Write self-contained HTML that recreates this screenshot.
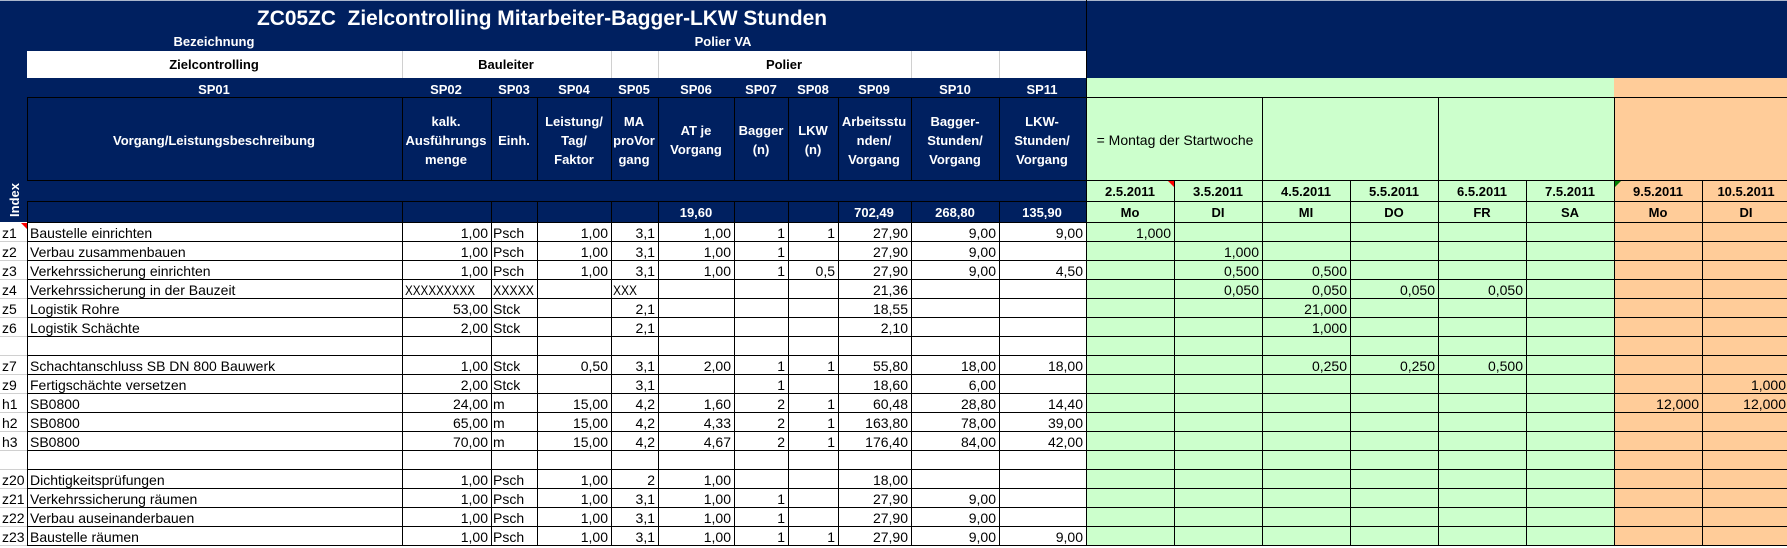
<!DOCTYPE html>
<html>
<head>
<meta charset="utf-8">
<style>
html,body{margin:0;padding:0;background:#fff;}
body{width:1787px;height:548px;overflow:hidden;}
svg{display:block;}
.t{font-family:"Liberation Sans",sans-serif;font-size:14px;fill:#000;}
.h{font-family:"Liberation Sans",sans-serif;font-size:13px;font-weight:bold;fill:#fff;}
.k{font-family:"Liberation Sans",sans-serif;font-size:13px;font-weight:bold;fill:#000;}
</style>
</head>
<body>
<svg width="1787" height="548" viewBox="0 0 1787 548" xmlns="http://www.w3.org/2000/svg">
<!-- backgrounds -->
<rect x="0" y="0" width="1787" height="548" fill="#ffffff"/>
<rect x="0" y="0" width="1787" height="78" fill="#002060"/>
<rect x="0" y="78" width="1086" height="144" fill="#002060"/>
<rect x="27" y="51" width="1059" height="27" fill="#ffffff"/>
<rect x="1086" y="78" width="528" height="467" fill="#CCFFCC"/>
<rect x="1614" y="78" width="173" height="467" fill="#FFCC99"/>
<rect x="0" y="0" width="1787" height="1" fill="#aab6cc"/>

<!-- light grey lines -->
<g stroke="#d0d0d0" stroke-width="1" shape-rendering="crispEdges">
<path d="M402.5 51V78M611.5 51V78M658.5 51V78M911.5 51V78M999.5 51V78"/>
<path d="M0 241.5H27M0 260.5H27M0 279.5H27M0 298.5H27M0 317.5H27M0 336.5H27M0 355.5H27M0 374.5H27M0 393.5H27M0 412.5H27M0 431.5H27M0 450.5H27M0 469.5H27M0 488.5H27M0 507.5H27M0 526.5H27M0 545.5H27"/>
</g>

<!-- black grid -->
<g stroke="#000" stroke-width="1" shape-rendering="crispEdges" fill="none">
<path d="M27 97.5H1787M27 180.5H1787M27 201.5H1787"/>
<path d="M27 222.5H1787M27 241.5H1787M27 260.5H1787M27 279.5H1787M27 298.5H1787M27 317.5H1787M27 336.5H1787M27 355.5H1787M27 374.5H1787M27 393.5H1787M27 412.5H1787M27 431.5H1787M27 450.5H1787M27 469.5H1787M27 488.5H1787M27 507.5H1787M27 526.5H1787M27 545.5H1787"/>
<path d="M27.5 97V180M402.5 97V180M491.5 97V180M537.5 97V180M611.5 97V180M658.5 97V180M734.5 97V180M788.5 97V180M838.5 97V180M911.5 97V180M999.5 97V180"/>
<path d="M27.5 201V546M402.5 201V546M491.5 201V546M537.5 201V546M611.5 201V546M658.5 201V546M734.5 201V546M788.5 201V546M838.5 201V546M911.5 201V546M999.5 201V546"/>
<path d="M1086.5 0V546"/>
<path d="M1262.5 97V180M1438.5 97V180M1614.5 97V180"/>
<path d="M1174.5 180V546M1262.5 180V546M1350.5 180V546M1438.5 180V546M1526.5 180V546M1614.5 180V546M1702.5 180V546"/>
</g>

<!-- comment markers -->
<polygon points="21,223 27,223 27,229" fill="#ff0000"/>
<polygon points="1168,181 1174,181 1174,187" fill="#ff0000"/>
<polygon points="1615,181 1621,181 1615,187" fill="#008000"/>

<!-- title area -->
<text class="h" x="542" y="25" text-anchor="middle" font-size="21" style="font-size:21px" textLength="570" lengthAdjust="spacingAndGlyphs">ZC05ZC&#160; Zielcontrolling Mitarbeiter-Bagger-LKW Stunden</text>
<text class="h" x="214" y="46" text-anchor="middle">Bezeichnung</text>
<text class="h" x="723" y="46" text-anchor="middle">Polier VA</text>

<!-- white row -->
<g class="k" text-anchor="middle">
<text x="214" y="69">Zielcontrolling</text>
<text x="506" y="69">Bauleiter</text>
<text x="784" y="69">Polier</text>
</g>

<!-- SP labels -->
<g class="h" text-anchor="middle">
<text x="214" y="94">SP01</text>
<text x="446" y="94">SP02</text>
<text x="514" y="94">SP03</text>
<text x="574" y="94">SP04</text>
<text x="634" y="94">SP05</text>
<text x="696" y="94">SP06</text>
<text x="761" y="94">SP07</text>
<text x="813" y="94">SP08</text>
<text x="874" y="94">SP09</text>
<text x="955" y="94">SP10</text>
<text x="1042" y="94">SP11</text>
</g>

<!-- header box -->
<g class="h" text-anchor="middle">
<text x="214" y="145">Vorgang/Leistungsbeschreibung</text>
<text x="446" y="126">kalk.</text>
<text x="446" y="145">Ausführungs</text>
<text x="446" y="164">menge</text>
<text x="514" y="145">Einh.</text>
<text x="574" y="126">Leistung/</text>
<text x="574" y="145">Tag/</text>
<text x="574" y="164">Faktor</text>
<text x="634" y="126">MA</text>
<text x="634" y="145">proVor</text>
<text x="634" y="164">gang</text>
<text x="696" y="135">AT je</text>
<text x="696" y="154">Vorgang</text>
<text x="761" y="135">Bagger</text>
<text x="761" y="154">(n)</text>
<text x="813" y="135">LKW</text>
<text x="813" y="154">(n)</text>
<text x="874" y="126">Arbeitsstu</text>
<text x="874" y="145">nden/</text>
<text x="874" y="164">Vorgang</text>
<text x="955" y="126">Bagger-</text>
<text x="955" y="145">Stunden/</text>
<text x="955" y="164">Vorgang</text>
<text x="1042" y="126">LKW-</text>
<text x="1042" y="145">Stunden/</text>
<text x="1042" y="164">Vorgang</text>
</g>
<text class="t" x="1175" y="145" text-anchor="middle">= Montag der Startwoche</text>

<!-- Index vertical -->
<text class="h" transform="translate(19,200) rotate(-90)" text-anchor="middle">Index</text>

<!-- totals -->
<g class="h" text-anchor="middle">
<text x="696" y="217">19,60</text>
<text x="874" y="217">702,49</text>
<text x="955" y="217">268,80</text>
<text x="1042" y="217">135,90</text>
</g>

<!-- dates -->
<g class="k" text-anchor="middle">
<text x="1130" y="196">2.5.2011</text>
<text x="1218" y="196">3.5.2011</text>
<text x="1306" y="196">4.5.2011</text>
<text x="1394" y="196">5.5.2011</text>
<text x="1482" y="196">6.5.2011</text>
<text x="1570" y="196">7.5.2011</text>
<text x="1658" y="196">9.5.2011</text>
<text x="1746" y="196">10.5.2011</text>
<text x="1130" y="217">Mo</text>
<text x="1218" y="217">DI</text>
<text x="1306" y="217">MI</text>
<text x="1394" y="217">DO</text>
<text x="1482" y="217">FR</text>
<text x="1570" y="217">SA</text>
<text x="1658" y="217">Mo</text>
<text x="1746" y="217">DI</text>
</g>

<!-- left-aligned data text -->
<g class="t">
<text x="2" y="238">z1</text>
<text x="2" y="257">z2</text>
<text x="2" y="276">z3</text>
<text x="2" y="295">z4</text>
<text x="2" y="314">z5</text>
<text x="2" y="333">z6</text>
<text x="2" y="371">z7</text>
<text x="2" y="390">z9</text>
<text x="2" y="409">h1</text>
<text x="2" y="428">h2</text>
<text x="2" y="447">h3</text>
<text x="2" y="485">z20</text>
<text x="2" y="504">z21</text>
<text x="2" y="523">z22</text>
<text x="2" y="542">z23</text>

<text x="30" y="238">Baustelle einrichten</text>
<text x="30" y="257">Verbau zusammenbauen</text>
<text x="30" y="276">Verkehrssicherung einrichten</text>
<text x="30" y="295">Verkehrssicherung in der Bauzeit</text>
<text x="30" y="314">Logistik Rohre</text>
<text x="30" y="333">Logistik Schächte</text>
<text x="30" y="371">Schachtanschluss SB DN 800 Bauwerk</text>
<text x="30" y="390">Fertigschächte versetzen</text>
<text x="30" y="409">SB0800</text>
<text x="30" y="428">SB0800</text>
<text x="30" y="447">SB0800</text>
<text x="30" y="485">Dichtigkeitsprüfungen</text>
<text x="30" y="504">Verkehrssicherung räumen</text>
<text x="30" y="523">Verbau auseinanderbauen</text>
<text x="30" y="542">Baustelle räumen</text>

<text x="405" y="295" textLength="70" lengthAdjust="spacingAndGlyphs">XXXXXXXXX</text>
<text x="493" y="295" textLength="41" lengthAdjust="spacingAndGlyphs">XXXXX</text>
<text x="613" y="295" textLength="24" lengthAdjust="spacingAndGlyphs">XXX</text>

<text x="493" y="238">Psch</text>
<text x="493" y="257">Psch</text>
<text x="493" y="276">Psch</text>
<text x="493" y="314">Stck</text>
<text x="493" y="333">Stck</text>
<text x="493" y="371">Stck</text>
<text x="493" y="390">Stck</text>
<text x="493" y="409">m</text>
<text x="493" y="428">m</text>
<text x="493" y="447">m</text>
<text x="493" y="485">Psch</text>
<text x="493" y="504">Psch</text>
<text x="493" y="523">Psch</text>
<text x="493" y="542">Psch</text>
</g>

<!-- right-aligned numbers -->
<g class="t" text-anchor="end">
<!-- SP02 -->
<text x="488" y="238">1,00</text>
<text x="488" y="257">1,00</text>
<text x="488" y="276">1,00</text>
<text x="488" y="314">53,00</text>
<text x="488" y="333">2,00</text>
<text x="488" y="371">1,00</text>
<text x="488" y="390">2,00</text>
<text x="488" y="409">24,00</text>
<text x="488" y="428">65,00</text>
<text x="488" y="447">70,00</text>
<text x="488" y="485">1,00</text>
<text x="488" y="504">1,00</text>
<text x="488" y="523">1,00</text>
<text x="488" y="542">1,00</text>
<!-- SP04 -->
<text x="608" y="238">1,00</text>
<text x="608" y="257">1,00</text>
<text x="608" y="276">1,00</text>
<text x="608" y="371">0,50</text>
<text x="608" y="409">15,00</text>
<text x="608" y="428">15,00</text>
<text x="608" y="447">15,00</text>
<text x="608" y="485">1,00</text>
<text x="608" y="504">1,00</text>
<text x="608" y="523">1,00</text>
<text x="608" y="542">1,00</text>
<!-- SP05 -->
<text x="655" y="238">3,1</text>
<text x="655" y="257">3,1</text>
<text x="655" y="276">3,1</text>
<text x="655" y="314">2,1</text>
<text x="655" y="333">2,1</text>
<text x="655" y="371">3,1</text>
<text x="655" y="390">3,1</text>
<text x="655" y="409">4,2</text>
<text x="655" y="428">4,2</text>
<text x="655" y="447">4,2</text>
<text x="655" y="485">2</text>
<text x="655" y="504">3,1</text>
<text x="655" y="523">3,1</text>
<text x="655" y="542">3,1</text>
<!-- SP06 -->
<text x="731" y="238">1,00</text>
<text x="731" y="257">1,00</text>
<text x="731" y="276">1,00</text>
<text x="731" y="371">2,00</text>
<text x="731" y="409">1,60</text>
<text x="731" y="428">4,33</text>
<text x="731" y="447">4,67</text>
<text x="731" y="485">1,00</text>
<text x="731" y="504">1,00</text>
<text x="731" y="523">1,00</text>
<text x="731" y="542">1,00</text>
<!-- SP07 -->
<text x="785" y="238">1</text>
<text x="785" y="257">1</text>
<text x="785" y="276">1</text>
<text x="785" y="371">1</text>
<text x="785" y="390">1</text>
<text x="785" y="409">2</text>
<text x="785" y="428">2</text>
<text x="785" y="447">2</text>
<text x="785" y="504">1</text>
<text x="785" y="523">1</text>
<text x="785" y="542">1</text>
<!-- SP08 -->
<text x="835" y="238">1</text>
<text x="835" y="276">0,5</text>
<text x="835" y="371">1</text>
<text x="835" y="409">1</text>
<text x="835" y="428">1</text>
<text x="835" y="447">1</text>
<text x="835" y="542">1</text>
<!-- SP09 -->
<text x="908" y="238">27,90</text>
<text x="908" y="257">27,90</text>
<text x="908" y="276">27,90</text>
<text x="908" y="295">21,36</text>
<text x="908" y="314">18,55</text>
<text x="908" y="333">2,10</text>
<text x="908" y="371">55,80</text>
<text x="908" y="390">18,60</text>
<text x="908" y="409">60,48</text>
<text x="908" y="428">163,80</text>
<text x="908" y="447">176,40</text>
<text x="908" y="485">18,00</text>
<text x="908" y="504">27,90</text>
<text x="908" y="523">27,90</text>
<text x="908" y="542">27,90</text>
<!-- SP10 -->
<text x="996" y="238">9,00</text>
<text x="996" y="257">9,00</text>
<text x="996" y="276">9,00</text>
<text x="996" y="371">18,00</text>
<text x="996" y="390">6,00</text>
<text x="996" y="409">28,80</text>
<text x="996" y="428">78,00</text>
<text x="996" y="447">84,00</text>
<text x="996" y="504">9,00</text>
<text x="996" y="523">9,00</text>
<text x="996" y="542">9,00</text>
<!-- SP11 -->
<text x="1083" y="238">9,00</text>
<text x="1083" y="276">4,50</text>
<text x="1083" y="371">18,00</text>
<text x="1083" y="409">14,40</text>
<text x="1083" y="428">39,00</text>
<text x="1083" y="447">42,00</text>
<text x="1083" y="542">9,00</text>
<!-- day columns -->
<text x="1171" y="238">1,000</text>
<text x="1259" y="257">1,000</text>
<text x="1259" y="276">0,500</text>
<text x="1347" y="276">0,500</text>
<text x="1259" y="295">0,050</text>
<text x="1347" y="295">0,050</text>
<text x="1435" y="295">0,050</text>
<text x="1523" y="295">0,050</text>
<text x="1347" y="314">21,000</text>
<text x="1347" y="333">1,000</text>
<text x="1347" y="371">0,250</text>
<text x="1435" y="371">0,250</text>
<text x="1523" y="371">0,500</text>
<text x="1786" y="390">1,000</text>
<text x="1699" y="409">12,000</text>
<text x="1786" y="409">12,000</text>
</g>
</svg>
</body>
</html>
